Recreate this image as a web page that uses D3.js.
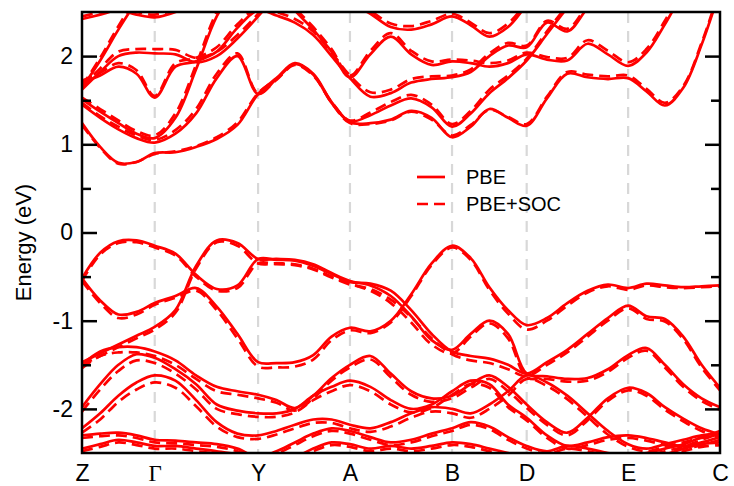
<!DOCTYPE html>
<html>
<head>
<meta charset="utf-8">
<script src="https://cdn.jsdelivr.net/npm/d3@7"></script>
<style>
    body { margin: 0; background: #fff; }
    text { font-family: "Liberation Sans", Arial, Helvetica, sans-serif; fill: #000; }
</style>
</head>
<body>
<div id="chart"></div>
<script>
// high symmetry path
var kLabels = ["Z", "Γ", "Y", "A", "B", "D", "E", "C"];
var kTicks = [0, 0.114, 0.276, 0.42, 0.58, 0.697, 0.856, 1];
var kDivs = [4, 5, 5, 5, 4, 5, 5];
var yMajor = [-2, -1, 0, 1, 2];
var yMinor = [-1.5, -0.5, 0.5, 1.5];

// conduction bands (eV), PBE and PBE+SOC
var pbe_c1 = [1.24, 0.97, 0.79, 0.80, 0.90, 0.91, 0.97, 1.06, 1.22, 1.57, 1.75, 1.92, 1.80, 1.48, 1.25, 1.24, 1.28, 1.38, 1.30, 1.08, 1.20, 1.40, 1.30, 1.21, 1.52, 1.80, 1.76, 1.74, 1.75, 1.60, 1.44, 1.64, 2.13, 2.75];
var soc_c1 = [1.22, 0.96, 0.78, 0.80, 0.89, 0.92, 0.98, 1.08, 1.25, 1.58, 1.74, 1.91, 1.79, 1.47, 1.24, 1.23, 1.27, 1.37, 1.28, 1.10, 1.22, 1.39, 1.31, 1.23, 1.54, 1.82, 1.79, 1.77, 1.78, 1.63, 1.47, 1.66, 2.15, 2.77];
var pbe_c2 = [1.45, 1.30, 1.17, 1.07, 1.02, 1.12, 1.35, 1.75, 2.00, 1.57, 1.74, 1.91, 1.79, 1.47, 1.26, 1.33, 1.44, 1.52, 1.42, 1.20, 1.35, 1.58, 1.75, 1.95, 2.25, 2.55, 2.85, null, null, null, null, null, null, null];
var soc_c2 = [1.47, 1.32, 1.20, 1.10, 1.05, 1.16, 1.40, 1.80, 2.03, 1.58, 1.73, 1.90, 1.78, 1.48, 1.27, 1.36, 1.48, 1.56, 1.45, 1.23, 1.38, 1.62, 1.78, 1.97, 2.28, 2.58, 2.88, null, null, null, null, null, null, null];
var pbe_c3 = [1.51, 1.37, 1.24, 1.12, 1.07, 1.30, 1.85, 2.45, 2.80, null, 2.80, 2.52, 2.30, 2.05, 1.76, 2.02, 2.22, 2.02, 1.90, 1.94, 1.92, 1.88, 1.92, 2.02, 1.96, 1.95, 2.14, 2.02, 1.89, 2.04, 2.36, 2.72, 3.00, null];
var soc_c3 = [1.53, 1.40, 1.27, 1.15, 1.10, 1.35, 1.90, 2.50, 2.85, null, 2.83, 2.55, 2.33, 2.08, 1.78, 2.06, 2.26, 2.06, 1.94, 1.96, 1.95, 1.92, 1.95, 2.04, 1.99, 1.98, 2.18, 2.06, 1.93, 2.08, 2.40, 2.76, 3.00, null];
var pbe_c4 = [1.70, 1.78, 1.88, 1.80, 1.53, 1.88, 1.94, 2.05, 2.32, 2.52, 2.46, 2.38, 2.24, 2.00, 1.75, 1.54, 1.58, 1.70, 1.74, 1.76, 1.82, 2.00, 2.12, 2.10, 2.38, 2.28, 2.55, 2.85, null, null, null, null, null, null];
var soc_c4 = [1.72, 1.81, 1.92, 1.84, 1.55, 1.92, 1.98, 2.10, 2.36, 2.55, 2.50, 2.42, 2.28, 2.04, 1.78, 1.59, 1.62, 1.74, 1.77, 1.78, 1.85, 2.03, 2.15, 2.12, 2.40, 2.31, 2.58, 2.88, null, null, null, null, null, null];
var pbe_c5 = [null, null, null, null, null, null, null, null, null, null, null, null, null, 2.80, 2.60, 2.48, 2.33, 2.30, 2.36, 2.45, 2.35, 2.22, 2.33, 2.58, 2.85, null, null, null, null, null, null, null, null, null];
var soc_c5 = [null, null, null, null, null, null, null, null, null, null, null, null, null, 2.83, 2.63, 2.51, 2.37, 2.34, 2.40, 2.48, 2.38, 2.26, 2.37, 2.61, 2.88, null, null, null, null, null, null, null, null, null];
var pbe_c6 = [2.42, 2.47, 2.52, 2.47, 2.44, 2.50, 2.62, 2.80, null, null, null, null, null, null, null, null, null, null, null, null, null, null, null, null, null, null, null, null, null, null, null, null, null, null];
var soc_c6 = [2.45, 2.50, 2.55, 2.50, 2.47, 2.53, 2.65, 2.83, null, null, null, null, null, null, null, null, null, null, null, null, null, null, null, null, null, null, null, null, null, null, null, null, null, null];
var pbe_c7 = [1.64, 1.95, 2.30, 2.62, 2.90, null, null, null, null, null, null, null, null, null, null, null, null, null, null, null, null, null, null, null, null, null, null, null, null, null, null, null, null, null];
var soc_c7 = [1.66, 1.98, 2.34, 2.66, 2.95, null, null, null, null, null, null, null, null, null, null, null, null, null, null, null, null, null, null, null, null, null, null, null, null, null, null, null, null, null];
var pbe_c8 = [1.62, 1.82, 2.00, 2.04, 2.03, 2.02, 1.93, 2.00, 2.20, 2.45, 2.70, null, null, null, null, null, null, null, null, null, null, null, null, null, null, null, null, null, null, null, null, null, null, null];
var soc_c8 = [1.65, 1.86, 2.05, 2.08, 2.08, 2.07, 1.98, 2.05, 2.24, 2.48, 2.74, null, null, null, null, null, null, null, null, null, null, null, null, null, null, null, null, null, null, null, null, null, null, null];

// valence bands (eV)
var pbe_v1 = [-0.52, -0.23, -0.10, -0.09, -0.15, -0.24, -0.48, -0.64, -0.60, -0.30, -0.31, -0.32, -0.38, -0.47, -0.56, -0.58, -0.66, -0.88, -1.15, -1.35, -1.40, -1.43, -1.50, -1.60, -1.47, -1.33, -1.15, -0.97, -0.83, -0.95, -0.98, -1.18, -1.50, -1.76];
var soc_v1 = [-0.55, -0.25, -0.12, -0.11, -0.17, -0.26, -0.50, -0.66, -0.63, -0.35, -0.36, -0.37, -0.42, -0.51, -0.59, -0.64, -0.76, -0.96, -1.20, -1.38, -1.45, -1.48, -1.55, -1.63, -1.50, -1.36, -1.18, -1.00, -0.86, -0.98, -1.01, -1.21, -1.53, -1.79];
var pbe_v2 = [-0.52, -0.77, -0.93, -0.90, -0.80, -0.72, -0.63, -0.84, -1.15, -1.47, -1.48, -1.47, -1.39, -1.18, -1.08, -1.12, -1.00, -0.70, -0.35, -0.15, -0.29, -0.62, -0.88, -1.05, -0.97, -0.80, -0.66, -0.59, -0.63, -0.58, -0.60, -0.62, -0.61, -0.60];
var soc_v2 = [-0.55, -0.80, -0.97, -0.93, -0.82, -0.74, -0.66, -0.88, -1.20, -1.52, -1.53, -1.52, -1.44, -1.22, -1.11, -1.14, -1.02, -0.72, -0.37, -0.17, -0.31, -0.65, -0.92, -1.10, -1.00, -0.83, -0.68, -0.61, -0.65, -0.60, -0.62, -0.63, -0.62, -0.61];
var pbe_v3 = [-1.47, -1.37, -1.27, -1.17, -1.07, -0.88, -0.38, -0.09, -0.12, -0.30, -0.30, -0.31, -0.36, -0.46, -0.55, -0.60, -0.72, -0.95, -1.22, -1.33, -1.15, -1.00, -1.15, -1.60, -1.63, -1.66, -1.65, -1.55, -1.39, -1.31, -1.50, -1.72, -1.88, -1.98];
var soc_v3 = [-1.50, -1.40, -1.30, -1.20, -1.10, -0.91, -0.41, -0.11, -0.15, -0.35, -0.35, -0.36, -0.41, -0.50, -0.58, -0.66, -0.80, -1.02, -1.27, -1.37, -1.18, -1.03, -1.20, -1.64, -1.66, -1.69, -1.68, -1.58, -1.42, -1.34, -1.53, -1.75, -1.91, -2.01];
var pbe_v4 = [-1.50, -1.35, -1.30, -1.30, -1.35, -1.45, -1.62, -1.75, -1.80, -1.84, -1.90, -1.99, -1.85, -1.65, -1.50, -1.40, -1.60, -1.80, -1.88, -1.85, -1.72, -1.62, -1.75, -1.95, -2.15, -2.27, -2.10, -1.88, -1.76, -1.82, -1.98, -2.11, -2.22, -2.29];
var soc_v4 = [-1.54, -1.40, -1.36, -1.36, -1.40, -1.50, -1.66, -1.80, -1.84, -1.88, -1.93, -2.02, -1.88, -1.68, -1.53, -1.44, -1.64, -1.84, -1.92, -1.88, -1.76, -1.66, -1.80, -1.99, -2.18, -2.30, -2.13, -1.91, -1.79, -1.85, -2.01, -2.14, -2.25, -2.32];
var pbe_v5 = [-1.98, -1.72, -1.50, -1.38, -1.42, -1.55, -1.72, -1.95, -2.02, -2.05, -2.05, -2.00, -1.85, -1.75, -1.68, -1.75, -1.90, -2.00, -1.95, -1.80, -1.68, -1.72, -1.95, -2.10, -2.30, -2.42, -2.38, -2.32, -2.30, -2.33, -2.38, -2.42, -2.38, -2.32];
var soc_v5 = [-2.03, -1.78, -1.57, -1.45, -1.48, -1.60, -1.78, -2.00, -2.06, -2.09, -2.09, -2.04, -1.90, -1.80, -1.73, -1.80, -1.95, -2.04, -1.99, -1.84, -1.72, -1.76, -1.98, -2.13, -2.33, -2.45, -2.41, -2.35, -2.33, -2.36, -2.41, -2.45, -2.41, -2.35];
var pbe_v6 = [-2.22, -2.05, -1.85, -1.70, -1.62, -1.68, -1.90, -2.15, -2.28, -2.30, -2.25, -2.18, -2.12, -2.12, -2.18, -2.22, -2.15, -2.05, -1.98, -2.00, -2.05, -1.95, -1.80, -1.62, -1.70, -1.85, -2.05, -2.25, -2.40, -2.45, -2.40, -2.35, -2.30, -2.28];
var soc_v6 = [-2.27, -2.12, -1.92, -1.78, -1.70, -1.76, -1.97, -2.20, -2.32, -2.34, -2.29, -2.22, -2.16, -2.16, -2.22, -2.26, -2.20, -2.10, -2.03, -2.05, -2.10, -2.00, -1.85, -1.66, -1.74, -1.89, -2.09, -2.29, -2.43, -2.48, -2.43, -2.38, -2.33, -2.31];
var pbe_v7 = [-2.30, -2.28, -2.27, -2.30, -2.35, -2.36, -2.38, -2.40, -2.45, -2.55, -2.48, -2.38, -2.28, -2.22, -2.25, -2.32, -2.38, -2.35, -2.28, -2.22, -2.15, -2.20, -2.32, -2.42, -2.48, -2.42, -2.45, -2.50, -2.52, -2.50, -2.45, -2.40, -2.32, -2.25];
var soc_v7 = [-2.33, -2.31, -2.30, -2.33, -2.38, -2.39, -2.41, -2.43, -2.48, -2.58, -2.51, -2.41, -2.31, -2.25, -2.28, -2.35, -2.41, -2.38, -2.31, -2.25, -2.18, -2.23, -2.35, -2.45, -2.51, -2.45, -2.48, -2.53, -2.55, -2.53, -2.48, -2.43, -2.35, -2.28];
var pbe_v8 = [-2.45, -2.40, -2.35, -2.38, -2.42, -2.42, -2.45, -2.48, -2.52, -2.60, -2.60, -2.55, -2.45, -2.38, -2.40, -2.45, -2.42, -2.45, -2.42, -2.38, -2.40, -2.45, -2.50, -2.55, -2.60, -2.60, -2.60, -2.60, -2.60, -2.58, -2.52, -2.45, -2.40, -2.38];
var soc_v8 = [-2.48, -2.43, -2.38, -2.41, -2.45, -2.45, -2.48, -2.51, -2.55, -2.63, -2.63, -2.58, -2.48, -2.41, -2.43, -2.48, -2.45, -2.48, -2.45, -2.41, -2.43, -2.48, -2.53, -2.58, -2.63, -2.63, -2.63, -2.63, -2.63, -2.61, -2.55, -2.48, -2.43, -2.41];

var pbeBands = [pbe_c1, pbe_c2, pbe_c3, pbe_c4, pbe_c5, pbe_c6, pbe_c7, pbe_c8,
    pbe_v1, pbe_v2, pbe_v3, pbe_v4, pbe_v5, pbe_v6, pbe_v7, pbe_v8];
var socBands = [soc_c1, soc_c2, soc_c3, soc_c4, soc_c5, soc_c6, soc_c7, soc_c8,
    soc_v1, soc_v2, soc_v3, soc_v4, soc_v5, soc_v6, soc_v7, soc_v8];

// k points along the path, evenly split per segment
var kGrid = [];
for (var i = 0; i < kDivs.length; i++) {
    for (var j = 0; j < kDivs[i]; j++) {
        kGrid.push(kTicks[i] + (kTicks[i + 1] - kTicks[i]) * j / kDivs[i]);
    }
}
kGrid.push(kTicks[kTicks.length - 1]);

var width = 734, height = 486;
var margin = { top: 12, right: 14, bottom: 33, left: 82 };
var w = width - margin.left - margin.right;
var h = height - margin.top - margin.bottom;

var svg = d3.select("#chart")
    .append("svg")
    .attr("width", width)
    .attr("height", height);

var g = svg.append("g")
    .attr("transform", "translate(" + margin.left + "," + margin.top + ")");

var x = d3.scaleLinear().domain([0, 1]).range([0, w]);
var y = d3.scaleLinear().domain([-2.5, 2.5]).range([h, 0]);

g.append("clipPath")
    .attr("id", "clip")
    .append("rect")
    .attr("width", w)
    .attr("height", h);

// vertical lines at high symmetry points
g.selectAll(".kline")
    .data(kTicks.slice(1, -1))
    .enter()
    .append("line")
    .attr("x1", d => x(d))
    .attr("x2", d => x(d))
    .attr("y1", 0)
    .attr("y2", h)
    .attr("stroke", "#d8d8d8")
    .attr("stroke-width", 2.2)
    .attr("stroke-dasharray", "11,8");

var line = d3.line()
    .defined(d => d[1] != null)
    .x(d => x(d[0]))
    .y(d => y(d[1]))
    .curve(d3.curveCatmullRom.alpha(0.5));

function toPoints(band) {
    return band.map(function (e, i) { return [kGrid[i], e]; });
}

var bands = g.append("g").attr("clip-path", "url(#clip)");

bands.selectAll(".soc")
    .data(socBands)
    .enter()
    .append("path")
    .attr("d", d => line(toPoints(d)))
    .attr("fill", "none")
    .attr("stroke", "#ff0000")
    .attr("stroke-width", 2.7)
    .attr("stroke-dasharray", "11,6");

bands.selectAll(".pbe")
    .data(pbeBands)
    .enter()
    .append("path")
    .attr("d", d => line(toPoints(d)))
    .attr("fill", "none")
    .attr("stroke", "#ff0000")
    .attr("stroke-width", 2.7);

// axes: ticks point inward
var left = g.append("g")
    .call(d3.axisLeft(y).tickValues(yMajor).tickSizeInner(-15).tickSizeOuter(0).tickPadding(9).tickFormat(d => String(d)));
g.append("g")
    .call(d3.axisLeft(y).tickValues(yMinor).tickSizeInner(-9).tickSizeOuter(0).tickFormat(""));
g.append("g")
    .attr("transform", "translate(" + w + ",0)")
    .call(d3.axisRight(y).tickValues(yMajor).tickSizeInner(-15).tickSizeOuter(0).tickFormat(""));
g.append("g")
    .attr("transform", "translate(" + w + ",0)")
    .call(d3.axisRight(y).tickValues(yMinor).tickSizeInner(-9).tickSizeOuter(0).tickFormat(""));

var bottom = g.append("g")
    .attr("transform", "translate(0," + h + ")")
    .call(d3.axisBottom(x).tickValues(kTicks).tickSize(0).tickPadding(12).tickFormat((d, i) => kLabels[i]));

g.selectAll(".domain").remove();
g.selectAll(".tick line").attr("stroke", "#000").attr("stroke-width", 2.5);
g.selectAll(".tick text")
    .style("font-size", "23px")
    .style("font-family", "'Liberation Sans', Arial, sans-serif");
bottom.selectAll(".tick text")
    .filter((d, i) => kLabels[i] == "Γ")
    .style("font-family", "'Liberation Serif', 'DejaVu Serif', serif");

// frame
g.append("rect")
    .attr("width", w)
    .attr("height", h)
    .attr("fill", "none")
    .attr("stroke", "#000")
    .attr("stroke-width", 2.5);

svg.append("text")
    .attr("transform", "translate(31," + (margin.top + h / 2 + 10) + ") rotate(-90)")
    .attr("text-anchor", "middle")
    .style("font-size", "22px")
    .text("Energy (eV)");

// legend
var legend = svg.append("g").attr("transform", "translate(417,177)");
legend.append("line")
    .attr("x1", 0).attr("x2", 28).attr("y1", 0).attr("y2", 0)
    .attr("stroke", "#ff0000").attr("stroke-width", 2.7);
legend.append("text")
    .attr("x", 49).attr("y", 7)
    .style("font-size", "20px")
    .text("PBE");
legend.append("line")
    .attr("x1", 0).attr("x2", 28).attr("y1", 27).attr("y2", 27)
    .attr("stroke", "#ff0000").attr("stroke-width", 2.7)
    .attr("stroke-dasharray", "11,6");
legend.append("text")
    .attr("x", 49).attr("y", 34)
    .style("font-size", "20px")
    .text("PBE+SOC");
</script>
</body>
</html>
